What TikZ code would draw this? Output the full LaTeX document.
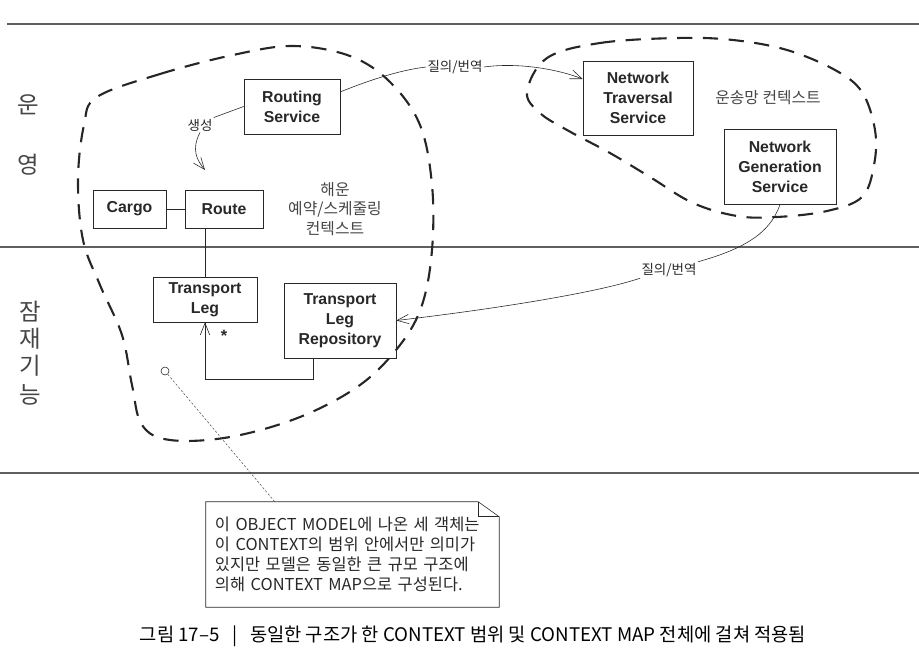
\documentclass[tikz,border=0pt]{standalone}
\usepackage{fontspec}
\setmainfont{Liberation Sans}
\newfontfamily\kr{Noto Sans CJK KR}
\usetikzlibrary{arrows.meta}
\definecolor{InkGray}{RGB}{40,40,40}
\definecolor{RuleGray}{RGB}{95,95,95}
\definecolor{SoftGray}{RGB}{70,70,70}

\tikzset{
  cls/.style={draw=InkGray, line width=0.6pt, align=center, inner sep=0pt,
    text=InkGray, font=\fontsize{13.5}{17}\selectfont\bfseries},
  ctx/.style={draw=black!85, line width=1.8pt, dash pattern=on 13pt off 9pt},
  conn/.style={draw=InkGray, line width=0.5pt},
  rule/.style={draw=RuleGray, line width=0.9pt},
  tag/.style={font=\kr\fontsize{11.5}{13}\selectfont, text=InkGray, inner sep=1pt},
  layer/.style={font=\kr\fontsize{20}{21}\selectfont, text=SoftGray, inner sep=0pt},
  ctxname/.style={font=\kr\fontsize{13.5}{16.6}\selectfont, text=SoftGray, align=center},
  notebox/.style={draw=InkGray, line width=0.5pt},
  >={Straight Barb[length=10pt, width=8pt, line width=0.5pt]}
}

\begin{document}
\begin{tikzpicture}[x=0.03cm, y=-0.03cm]
    \useasboundingbox (0,0) rectangle (919,659);

    % Layer rules
    \draw[rule] (7,24) -- (919,24);
    \draw[rule] (0,247) -- (919,247);
    \draw[rule] (0,473) -- (919,473);

    % Layer labels
    \node[layer] (op1) at (28,105) {운};
    \node[layer] (op2) at (28,165) {영};
    \node[layer] (po1) at (30,312) {잠};
    \node[layer] (po2) at (30,339) {재};
    \node[layer] (po3) at (30,366) {기};
    \node[layer] (po4) at (30,395) {능};

    % Contexts
    \draw[ctx] plot[smooth cycle, tension=0.6] coordinates {
      (97,97) (160,74) (233,55) (293,46) (350,56) (390,82) (420,125)
      (432,185) (432,250) (422,305) (400,345) (360,385) (300,417)
      (230,437) (170,440) (142,425) (132,385) (122,335) (100,285)
      (83,240) (78,180) (84,125)};
    \draw[ctx] plot[smooth cycle, tension=0.6] coordinates {
      (547,58) (600,43) (677,38) (733,40) (787,50) (835,70) (862,92)
      (875,130) (874,165) (862,197) (827,211) (777,217) (737,216)
      (693,203) (650,177) (610,153) (567,130) (540,113) (527,92)};
    \node[ctxname] (booking) at (335,209) {해운\\예약/스케줄링\\컨텍스트};
    \node[ctxname] (transport) at (768,98) {운송망 컨텍스트};

    % Classes
    \node[cls, minimum width=2.88cm, minimum height=1.65cm] (Routing) at (292,106.5) {Routing\\Service};
    \node[cls, minimum width=2.19cm, minimum height=1.14cm] (Cargo) at (129.5,209) {Cargo};
    \node[cls, minimum width=2.34cm, minimum height=1.14cm] (Route) at (224,209) {Route};
    \node[cls, minimum width=3.12cm, minimum height=1.35cm] (Leg) at (205,299.5) {Transport\\Leg};
    \node[cls, minimum width=3.36cm, minimum height=2.25cm] (Repo) at (340,320.5) {Transport\\Leg\\Repository};
    \node[cls, minimum width=3.30cm, minimum height=2.22cm] (Traversal) at (638,98) {Network\\Traversal\\Service};
    \node[cls, minimum width=3.36cm, minimum height=2.25cm] (NetGen) at (780,166.5) {Network\\Generation\\Service};

    % Associations
    \draw[conn] (Cargo) -- (Route);
    \draw[conn] (Route.south -| Leg.north) -- (Leg.north);
    \coordinate (bend) at (313,379);
    \draw[conn, ->] (Repo.south -| bend) -- (bend) -| (Leg.south);
    \node[font=\fontsize{14}{14}\selectfont\bfseries, text=InkGray, inner sep=0pt] (mult) at (224,336) {*};

    % Creation
    \node[tag] (create) at (200,125) {생성};
    \coordinate (createtip) at (205,170);
    \draw[conn] (Routing.west) -- (create.north east);
    \draw[conn, ->] (create.south) .. controls (191,150) and (197,160) .. (createtip);

    % Translations between contexts
    \node[tag] (query1) at (455,67) {질의/번역};
    \draw[conn] ([yshift=0.44cm]Routing.east) .. controls (370,80) and (400,70) .. (query1.west);
    \draw[conn, ->] (query1.east) .. controls (520,62) and (560,70) .. ([yshift=0.57cm]Traversal.west);
    \node[tag] (query2) at (669,270) {질의/번역};
    \draw[conn] (NetGen.south) .. controls (770,235) and (740,250) .. (query2.north east);
    \draw[conn, ->] (query2.south west) .. controls (590,295) and (470,312) .. (Repo.east);

    % Note
    \node[circle, draw=InkGray, line width=0.5pt, minimum size=0.24cm, inner sep=0pt] (pin) at (165,371) {};
    \node[align=left, text width=8.25cm, inner xsep=0.27cm, minimum width=8.79cm,
      minimum height=3.15cm, text=InkGray, font=\kr\fontsize{14}{17}\selectfont] (note) at (352.5,554.5)
      {이 OBJECT MODEL에 나온 세 객체는\\이 CONTEXT의 범위 안에서만 의미가\\있지만 모델은 동일한 큰 규모 구조에\\의해 CONTEXT MAP으로 구성된다.};
    \draw[notebox] (note.north west) -- ([xshift=-0.63cm]note.north east)
      -- ([yshift=-0.45cm]note.north east) -- (note.south east) -- (note.south west) -- cycle;
    \draw[notebox] ([xshift=-0.63cm]note.north east) |- ([yshift=-0.45cm]note.north east);
    \coordinate (noteend) at (275,502);
    \draw[draw=SoftGray, line width=0.4pt, dash pattern=on 2pt off 1.5pt] (pin) -- (noteend);

    % Caption
    \node[font=\kr\fontsize{16}{18}\selectfont, text=black] (caption) at (473,636)
      {그림 17–5 \ \ | \ \ 동일한 구조가 한 CONTEXT 범위 및 CONTEXT MAP 전체에 걸쳐 적용됨};
\end{tikzpicture}
\end{document}
